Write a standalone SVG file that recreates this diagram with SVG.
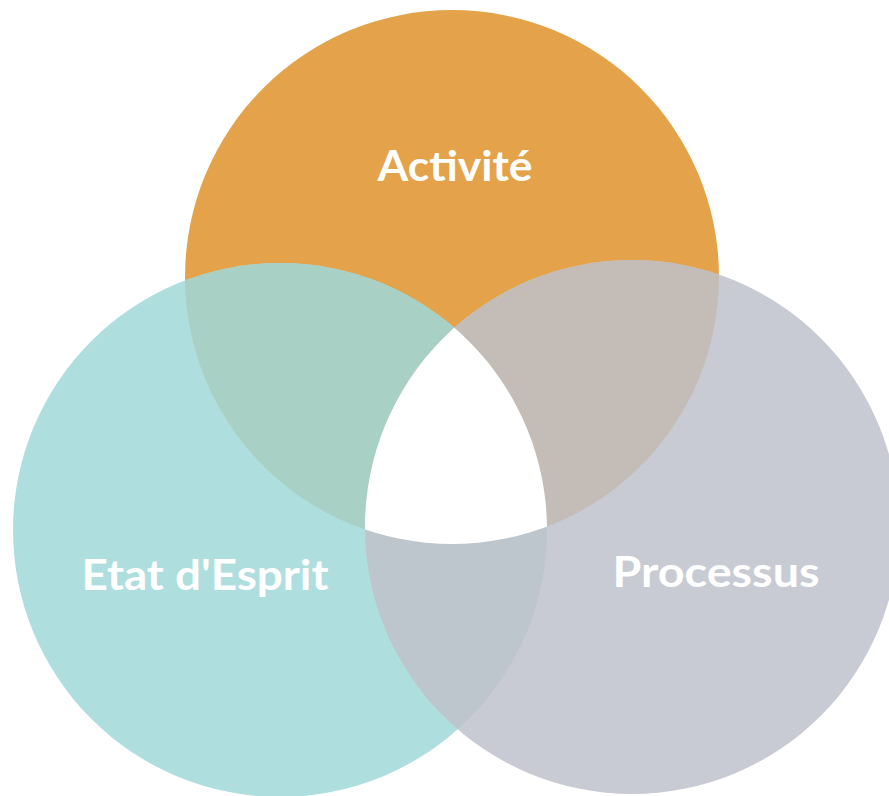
<svg xmlns="http://www.w3.org/2000/svg" width="889" height="796" viewBox="0 0 889 796">
  <style>
    .lbl { font-family: "Lato", "Open Sans", "Liberation Sans", sans-serif; font-weight: 700; font-size: 42px; fill: #ffffff; text-anchor: middle; }
  </style>
  <defs>
    <clipPath id="clipO"><circle cx="452" cy="277" r="267"/></clipPath>
    <clipPath id="clipT"><circle cx="280" cy="530" r="267"/></clipPath>
  </defs>
  <rect width="889" height="796" fill="#ffffff"/>
  <g id="activite">
    <circle cx="452" cy="277" r="267" fill="#E4A34A"/>
  </g>
  <g id="etat-esprit">
    <circle cx="280" cy="530" r="267" fill="#AFDEDF"/>
  </g>
  <g id="processus">
    <circle cx="632" cy="527" r="267" fill="#C8CBD3"/>
  </g>
  <g id="overlaps">
    <circle cx="280" cy="530" r="267" fill="#A9D0C4" clip-path="url(#clipO)"/>
    <circle cx="632" cy="527" r="267" fill="#C4BDB7" clip-path="url(#clipO)"/>
    <circle cx="632" cy="527" r="267" fill="#BDC5CD" clip-path="url(#clipT)"/>
    <g clip-path="url(#clipO)">
      <circle cx="632" cy="527" r="267" fill="#ffffff" clip-path="url(#clipT)"/>
    </g>
  </g>
  <g id="labels">
    <text class="lbl" x="455" y="181" textLength="155" lengthAdjust="spacingAndGlyphs">Activité</text>
    <text class="lbl" x="205" y="590" textLength="247" lengthAdjust="spacingAndGlyphs">Etat d'Esprit</text>
    <text class="lbl" x="716" y="587" textLength="207" lengthAdjust="spacingAndGlyphs">Processus</text>
  </g>
  <g id="connectors"/>
</svg>
